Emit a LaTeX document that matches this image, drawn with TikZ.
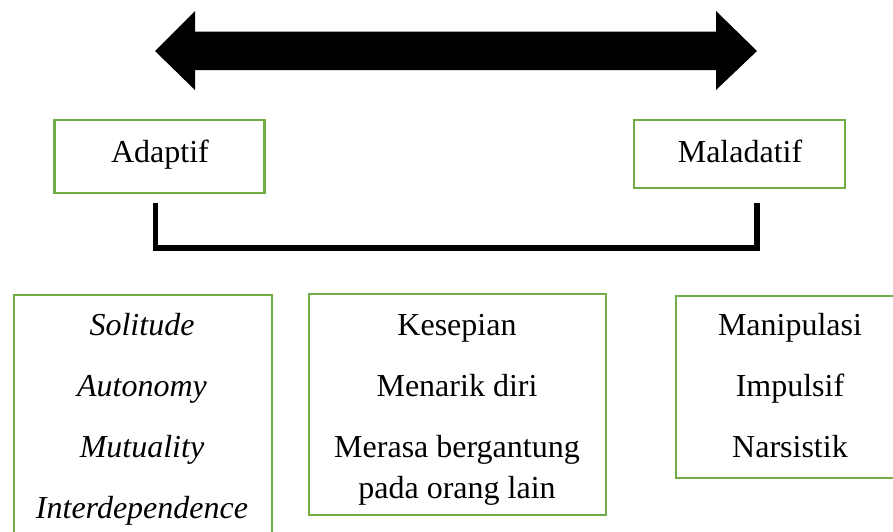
\documentclass[tikz,border=0pt]{standalone}
\usepackage{fontspec}
\setmainfont{Liberation Serif}
\definecolor{boxgreen}{RGB}{112,173,71}
\begin{document}
\begin{tikzpicture}[x=1pt,y=-1pt,
  gbox/.style={draw=boxgreen,line width=2.2pt,rectangle,inner sep=0pt},
  lbl/.style={font=\fontsize{32}{38}\selectfont,anchor=base,inner sep=0pt},
  ilbl/.style={lbl,font=\fontsize{32}{38}\selectfont\itshape}]
\useasboundingbox (0,0) rectangle (893,531);
\clip (0,0) rectangle (893,531);
% double arrow
\fill[black] (155,51) -- (195,11) -- (195,31.5) -- (716,31.5) -- (716,11) -- (757,51)
  -- (716,90) -- (716,70) -- (195,70) -- (195,90) -- cycle;
% top boxes
\node[gbox,minimum width=210pt,minimum height=73pt] (adaptif) at (159.5,156.5) {};
\node[lbl] (adaptiftxt) at (160,162) {Adaptif};
\node[gbox,minimum width=211pt,minimum height=68pt] (maladatif) at (739.5,154) {};
\node[lbl] (maladatiftxt) at (740,162) {Maladatif};
% bracket
\coordinate (bl) at (155.5,203);
\coordinate (br) at (757,203);
\draw[line width=5.5pt,miter limit=10] (bl) -- (bl |- 0,248) -- (br |- 0,248) -- (br);
% bottom boxes
\node[gbox,minimum width=258pt,minimum height=260pt,anchor=north west] (left) at (13,294) {};
\node[ilbl] (l1) at (142,335) {Solitude};
\node[ilbl] (l2) at (142,396) {Autonomy};
\node[ilbl] (l3) at (142,457) {Mutuality};
\node[ilbl] (l4) at (142,518) {Interdependence};
\node[gbox,minimum width=297pt,minimum height=221pt,anchor=north west] (mid) at (308,293) {};
\node[lbl] (m1) at (457,335) {Kesepian};
\node[lbl] (m2) at (457,396) {Menarik diri};
\node[lbl] (m3) at (457,457) {Merasa bergantung};
\node[lbl] (m4) at (457,498) {pada orang lain};
\node[gbox,minimum width=240pt,minimum height=182pt,anchor=north west] (right) at (675,295) {};
\node[lbl] (r1) at (790,335) {Manipulasi};
\node[lbl] (r2) at (790,396) {Impulsif};
\node[lbl] (r3) at (790,457) {Narsistik};
\end{tikzpicture}
\end{document}
